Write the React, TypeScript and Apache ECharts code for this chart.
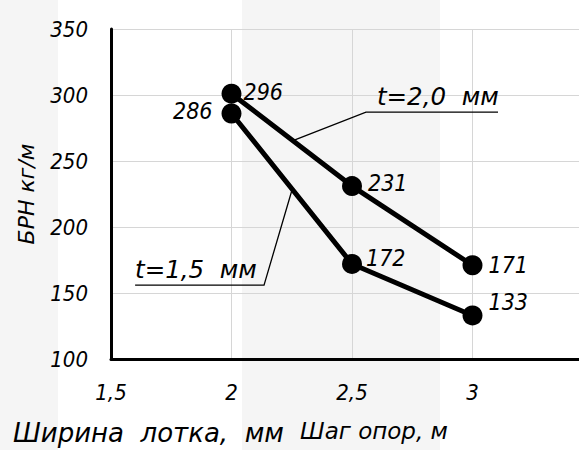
import React, { useEffect, useRef } from "react";
import * as echarts from "echarts";

// x positions (support spacing, m)
const spans = [2, 2.5, 3];
// t = 2,0 mm : marker heights as drawn and their printed labels
const seriesT20 = [301, 231, 171];
const labelsT20 = ["296", "231", "171"];
// t = 1,5 mm
const seriesT15 = [286, 172, 133];
const labelsT15 = ["286", "172", "133"];
// axis settings
const xMin = 1.5;
const xMax = 3.5;
const xStep = 0.5;
const yMin = 100;
const yMax = 350;
const yStep = 50;

const FONT_NUM = "'DejaVu Sans Condensed', 'DejaVu Sans', sans-serif";
const FONT_TXT = "'DejaVu Sans', sans-serif";

export default function App() {
  const ref = useRef<HTMLDivElement>(null);
  useEffect(() => {
    if (!ref.current) return;
    const chart = echarts.init(ref.current, null, { renderer: "svg" });
    const num = { fontFamily: FONT_NUM, fontStyle: "italic" as const, color: "#000" };
    const txt = { fontFamily: FONT_TXT, fontStyle: "italic" as const, color: "#000" };
    const labA = [
      { position: "right", distance: 2, offset: [0, -2] },
      { position: "right", distance: 6, offset: [0, -3] },
      { position: "right", distance: 6, offset: [0, 0] },
    ];
    const labB = [
      { position: "left", distance: 9, offset: [0, -2] },
      { position: "right", distance: 4, offset: [0, -6] },
      { position: "right", distance: 6, offset: [0, -13] },
    ];
    const mk = (vals: number[], labels: string[], pos: any[]) =>
      vals.map((v, i) => ({
        value: [spans[i], v],
        label: {
          show: true,
          formatter: labels[i],
          fontSize: 23,
          ...num,
          ...pos[i],
        },
      }));
    chart.setOption({
      animation: false,
      backgroundColor: "transparent",
      grid: { left: 111, top: 29, bottom: 91, right: 0, containLabel: false },
      xAxis: {
        type: "value",
        min: xMin,
        max: xMax,
        interval: xStep,
        name: "Шаг опор, м",
        nameLocation: "middle",
        nameGap: 60,
        nameTextStyle: { ...txt, fontSize: 23, padding: [0, 0, 0, 44] },
        axisLine: { show: true, onZero: false, lineStyle: { color: "#000", width: 3 } },
        axisTick: { show: false },
        splitLine: { show: true, lineStyle: { color: "#d6d6d6", width: 1 } },
        axisLabel: {
          ...num,
          fontSize: 22,
          margin: 22,
          showMaxLabel: false,
          formatter: (v: number) => String(v).replace(".", ","),
        },
      },
      yAxis: {
        type: "value",
        min: yMin,
        max: yMax,
        interval: yStep,
        name: "БРН кг/м",
        nameLocation: "middle",
        nameGap: 74,
        nameTextStyle: { ...txt, fontSize: 22 },
        axisLine: { show: true, lineStyle: { color: "#000", width: 3 } },
        axisTick: { show: false },
        splitLine: { show: true, lineStyle: { color: "#d6d6d6", width: 1 } },
        axisLabel: { ...num, fontSize: 22, margin: 23, padding: [0, 0, 10, 0] },
      },
      series: [
        {
          name: "t=2,0 мм",
          type: "line",
          data: mk(seriesT20, labelsT20, labA),
          symbol: "circle",
          symbolSize: 20,
          lineStyle: { color: "#000", width: 5 },
          itemStyle: { color: "#000" },
          z: 3,
        },
        {
          name: "t=1,5 мм",
          type: "line",
          data: mk(seriesT15, labelsT15, labB),
          symbol: "circle",
          symbolSize: 20,
          lineStyle: { color: "#000", width: 5 },
          itemStyle: { color: "#000" },
          z: 3,
        },
      ],
    });

    // leader annotations, anchored in data coordinates
    const p = (x: number, y: number) =>
      chart.convertToPixel({ gridIndex: 0 }, [x, y]) as number[];
    const aTip = p(2.263, 266);
    const aElbow = p(2.558, 287);
    const aEnd = p(3.106, 287);
    const bTip = p(2.251, 228);
    const bElbow = p(2.135, 156);
    const bStart = p(1.6, 156);
    const lineStyle = { stroke: "#000", lineWidth: 1.3, fill: null };
    const tStyle = {
      fontFamily: FONT_TXT,
      fontStyle: "italic",
      fontSize: 24.5,
      fill: "#000",
      verticalAlign: "bottom",
      align: "left",
    };
    chart.setOption({
      graphic: [
        { type: "polyline", shape: { points: [aTip, aElbow, aEnd] }, style: lineStyle, z: 10 },
        { type: "polyline", shape: { points: [bTip, bElbow, bStart] }, style: lineStyle, z: 10 },
        { type: "text", x: aElbow[0] + 11, y: aElbow[1] - 3, style: { ...tStyle, text: "t=2,0  мм" }, z: 10 },
        { type: "text", x: bStart[0], y: bStart[1] - 3, style: { ...tStyle, text: "t=1,5  мм" }, z: 10 },
        { type: "text", x: 13, y: 446, style: { ...tStyle, fontSize: 26, text: "Ширина  лотка,  мм" }, z: 10 },
      ],
    });
    return () => chart.dispose();
  }, []);
  return (
    <div
      style={{
        position: "fixed",
        left: 0,
        top: 0,
        width: 579,
        height: 450,
        overflow: "hidden",
        background:
          "linear-gradient(to right, #f5f5f5 0px, #f5f5f5 58px, #ffffff 58px, #ffffff 242px, #f5f5f5 242px, #f5f5f5 440px, #ffffff 440px)",
      }}
    >
      <div ref={ref} style={{ width: 593, height: 450 }} />
    </div>
  );
}
